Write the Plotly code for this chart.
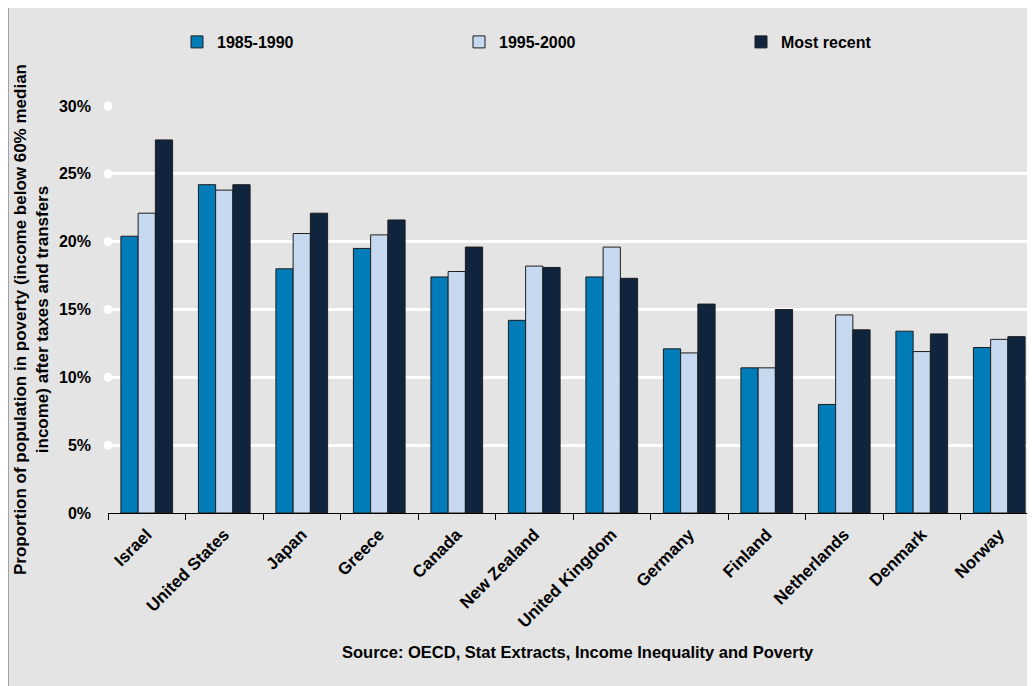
import plotly.graph_objects as go

countries = ["Israel", "United States", "Japan", "Greece", "Canada", "New Zealand",
             "United Kingdom", "Germany", "Finland", "Netherlands", "Denmark", "Norway"]
v_1985_1990 = [20.4, 24.2, 18.0, 19.5, 17.4, 14.2, 17.4, 12.1, 10.7, 8.0, 13.4, 12.2]
v_1995_2000 = [22.1, 23.8, 20.6, 20.5, 17.8, 18.2, 19.6, 11.8, 10.7, 14.6, 11.9, 12.8]
v_recent    = [27.5, 24.2, 22.1, 21.6, 19.6, 18.1, 17.3, 15.4, 15.0, 13.5, 13.2, 13.0]
series_names = ["1985-1990", "1995-2000", "Most recent"]
y_ticks = [0, 5, 10, 15, 20, 25, 30]
y_tick_labels = ["0%", "5%", "10%", "15%", "20%", "25%", "30%"]
source_text = "Source: OECD, Stat Extracts, Income Inequality and Poverty"
y_title = "Proportion of population in poverty (income below 60% median<br>income) after taxes and transfers"

colors = ["#007DB8", "#C6D9F0", "#10243E"]
FONT = "Liberation Sans, Arial, sans-serif"

fig = go.Figure()
for name, vals, col in zip(series_names, [v_1985_1990, v_1995_2000, v_recent], colors):
    fig.add_trace(go.Bar(
        x=countries, y=vals, name=name,
        marker=dict(color=col, line=dict(color="#1e1e1e", width=1)),
    ))

# round gridline start dots (on an overlay axis whose 0 is the plot's left edge)
fig.add_trace(go.Scatter(
    x=[0] * (len(y_ticks) - 1), y=y_ticks[1:], mode="markers", xaxis="x2",
    marker=dict(color="white", size=9), showlegend=False, cliponaxis=False,
    hoverinfo="skip",
))

# page is rendered with an 8px body margin: work in figure pixels = screen - 8
OFF = 8
W, H = 1035, 686
L = 108 - OFF
T = 106 - OFF
BOT = 513 - OFF
B = H - BOT
PW = W - L
PH = BOT - T


def px(sx):
    return (sx - OFF - L) / PW


def py(sy):
    return (BOT - (sy - OFF)) / PH


fig.update_layout(
    width=W, height=H,
    margin=dict(l=L, r=0, t=T, b=B, pad=0),
    paper_bgcolor="#E4E4E4",
    plot_bgcolor="rgba(0,0,0,0)",
    barmode="group",
    bargap=0.333,
    bargroupgap=0,
    font=dict(family=FONT, size=16, color="black", weight="bold"),
    showlegend=True,
    legend=dict(
        orientation="h", xref="container", yref="container",
        x=(177 - OFF) / W, y=1 - (42 - OFF) / H, xanchor="left", yanchor="middle",
        entrywidth=237, entrywidthmode="pixels",
        bgcolor="rgba(0,0,0,0)", font=dict(size=16, family=FONT, weight="bold"),
        traceorder="normal",
    ),
    xaxis=dict(
        range=[-0.5, -0.5 + PW / 77.5],
        showline=True, linecolor="black", linewidth=1,
        ticks="outside", tickson="boundaries", ticklen=6, tickcolor="black",
        tickangle=-45, showgrid=False, zeroline=False,
        ticklabelstandoff=4,
        tickfont=dict(size=17, family=FONT, weight="bold"),
    ),
    xaxis2=dict(overlaying="x", range=[0, 1], visible=False),
    yaxis=dict(
        range=[0, 30], tickvals=y_ticks, ticktext=y_tick_labels,
        showgrid=True, gridcolor="white", gridwidth=2.5,
        zeroline=False, showline=False, ticks="",
        ticklabelstandoff=16,
        tickfont=dict(size=16, family=FONT, weight="bold"),
    ),
    shapes=[
        # white strips outside the grey chart box (left and top), with the box border
        dict(type="rect", xref="paper", yref="paper", layer="below",
             x0=-0.5, x1=px(8), y0=-1, y1=2, fillcolor="white", line=dict(width=0)),
        dict(type="rect", xref="paper", yref="paper", layer="below",
             x0=-0.5, x1=2, y0=py(7), y1=2, fillcolor="white", line=dict(width=0)),
        dict(type="line", xref="paper", yref="paper", layer="below",
             x0=px(8), x1=px(8), y0=-1, y1=py(7), line=dict(color="#8C8C8C", width=1.5)),
        dict(type="line", xref="paper", yref="paper", layer="below",
             x0=px(8), x1=2, y0=py(7), y1=py(7), line=dict(color="#8C8C8C", width=1.5)),
    ],
    annotations=[
        dict(text=source_text, xref="paper", yref="paper",
             x=px(578), y=py(652), showarrow=False,
             xanchor="center", yanchor="middle",
             font=dict(size=16.5, family=FONT, weight="bold")),
        dict(text=y_title, xref="paper", yref="paper",
             x=px(31), y=py(320), showarrow=False,
             textangle=-90, xanchor="center", yanchor="middle", align="center",
             font=dict(size=17, family=FONT, weight="bold")),
    ],
)

fig.write_html("out.html")
